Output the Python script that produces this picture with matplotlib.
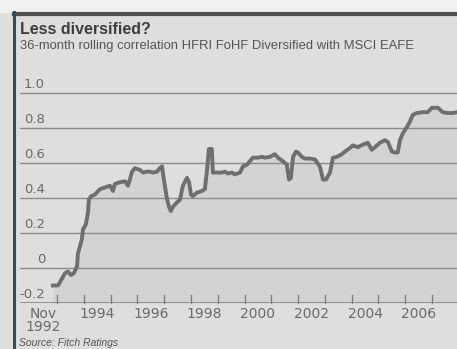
import matplotlib.pyplot as plt
from matplotlib.patches import Rectangle
from matplotlib.lines import Line2D

# 36-month rolling correlation, decimal year vs value
years = [1992.85, 1993.04, 1993.19, 1993.30, 1993.41, 1993.52, 1993.63, 1993.75,
         1993.78, 1993.86, 1993.93, 1993.97, 1994.08, 1994.16, 1994.19, 1994.27,
         1994.42, 1994.60, 1994.79, 1994.98, 1995.09, 1995.16, 1995.35, 1995.54,
         1995.65, 1995.72, 1995.80, 1995.91, 1996.10, 1996.21, 1996.36, 1996.47,
         1996.58, 1996.73, 1996.84, 1996.92, 1996.99, 1997.10, 1997.18, 1997.25,
         1997.33, 1997.48, 1997.59, 1997.70, 1997.85, 1997.93, 1998.00, 1998.07,
         1998.22, 1998.41, 1998.52, 1998.60, 1998.67, 1998.78, 1998.82, 1998.97,
         1999.16, 1999.27, 1999.38, 1999.53, 1999.64, 1999.83, 1999.94, 2000.09,
         2000.20, 2000.31, 2000.50, 2000.65, 2000.76, 2000.95, 2001.13, 2001.25,
         2001.43, 2001.58, 2001.66, 2001.73, 2001.81, 2001.92, 2001.99, 2002.14,
         2002.25, 2002.44, 2002.63, 2002.81, 2002.93, 2003.04, 2003.19, 2003.30,
         2003.45, 2003.63, 2003.75, 2003.93, 2004.04, 2004.23, 2004.42, 2004.60,
         2004.75, 2004.87, 2005.05, 2005.24, 2005.35, 2005.50, 2005.61, 2005.72,
         2005.80, 2005.91, 2006.06, 2006.17, 2006.28, 2006.43, 2006.66, 2006.84,
         2006.99, 2007.22, 2007.40, 2007.59, 2007.78, 2007.93]
corr = [-0.10, -0.10, -0.06, -0.03, -0.02, -0.04, -0.03, 0.01,
        0.08, 0.125, 0.165, 0.22, 0.25, 0.32, 0.39, 0.41,
        0.42, 0.45, 0.46, 0.47, 0.44, 0.48, 0.49, 0.495,
        0.47, 0.505, 0.55, 0.57, 0.56, 0.545, 0.55, 0.55,
        0.545, 0.55, 0.57, 0.58, 0.505, 0.40, 0.35, 0.325,
        0.35, 0.375, 0.39, 0.47, 0.515, 0.49, 0.42, 0.41,
        0.43, 0.44, 0.45, 0.56, 0.68, 0.68, 0.545, 0.545,
        0.545, 0.55, 0.54, 0.545, 0.535, 0.545, 0.58, 0.59,
        0.61, 0.63, 0.63, 0.635, 0.63, 0.635, 0.65, 0.63,
        0.61, 0.59, 0.505, 0.515, 0.635, 0.665, 0.66, 0.635,
        0.625, 0.625, 0.62, 0.58, 0.505, 0.505, 0.545, 0.63,
        0.635, 0.65, 0.665, 0.685, 0.70, 0.69, 0.705, 0.715,
        0.675, 0.69, 0.715, 0.73, 0.72, 0.665, 0.66, 0.66,
        0.73, 0.77, 0.805, 0.835, 0.875, 0.885, 0.89, 0.89,
        0.915, 0.915, 0.89, 0.885, 0.885, 0.89]

y_ticks = [-0.2, 0, 0.2, 0.4, 0.6, 0.8, 1.0]
y_labels = ['-0.2', '0', '0.2', '0.4', '0.6', '0.8', '1.0']
year_ticks = list(range(1993, 2008))
year_labels = ['1994', '1996', '1998', '2000', '2002', '2004', '2006']

bg = '#dedede'
txt = '#6a6a6a'
sans = ['Liberation Sans', 'DejaVu Sans']

fig = plt.figure(figsize=(4.57, 3.49), dpi=100, facecolor=bg)
ax = fig.add_axes([20 / 457, 46 / 349, 1 - 20 / 457, (303 - 75.4) / 349])
ax.set_facecolor(bg)
ax.set_xlim(1991.62, 2007.93)
ax.set_ylim(-0.2, 1.1)

for v in y_ticks[1:]:
    ax.axhline(v, color='#8c8c8c', lw=1.0, zorder=2)
ax.axhline(-0.2, color='#7a7a7a', lw=1.8, zorder=4)

ax.fill_between(years, corr, -0.2, color='#d3d3d3', lw=0, zorder=1)
ax.plot(years, corr, color='#6f6f6f', lw=2.8, solid_joinstyle='round', zorder=3)

for v, lab in zip(y_ticks, y_labels):
    ax.text(25 / 437, v + 0.012, lab, transform=ax.get_yaxis_transform(),
            ha='right', va='bottom', fontsize=9.5, color=txt)

for yr in year_ticks:
    ax.plot([yr, yr], [-0.2, -0.155], color='#7a7a7a', lw=0.9, zorder=4, clip_on=False)
for lab in year_labels:
    ax.text(int(lab) + 0.5, -0.225, lab, ha='center', va='top', fontsize=10, color=txt)
ax.text(1992.48, -0.225, 'Nov\n1992', ha='center', va='top', fontsize=10,
        color=txt, linespacing=0.9)

for s in ax.spines.values():
    s.set_visible(False)
ax.set_xticks([])
ax.set_yticks([])

# frame: light strip at top, dark bar, blue left rule
fig.patches.append(Rectangle((0, 1 - 12 / 349), 1, 12 / 349, transform=fig.transFigure,
                             color='#f2f2f2', zorder=0))
fig.lines.append(Line2D([14 / 457, 1], [1 - 14 / 349] * 2, transform=fig.transFigure,
                        color='#4f4f4f', lw=3))
fig.lines.append(Line2D([13.5 / 457] * 2, [0, 1 - 12 / 349], transform=fig.transFigure,
                        color='#24516b', lw=2.2))

fig.text(20 / 457, 1 - 29 / 349, 'Less diversified?', ha='left', va='center',
         fontsize=11.5, fontweight='bold', color='#3e3e3e', family=sans)
fig.text(20 / 457, 1 - 46 / 349,
         '36-month rolling correlation HFRI FoHF Diversified with MSCI EAFE',
         ha='left', va='center', fontsize=9.4, color='#555555', family=sans)
fig.text(19 / 457, 1 - 343 / 349, 'Source: Fitch Ratings', ha='left', va='center',
         fontsize=7.5, style='italic', color='#555555', family=sans)

fig.savefig('out.png', dpi=100, facecolor=bg)
